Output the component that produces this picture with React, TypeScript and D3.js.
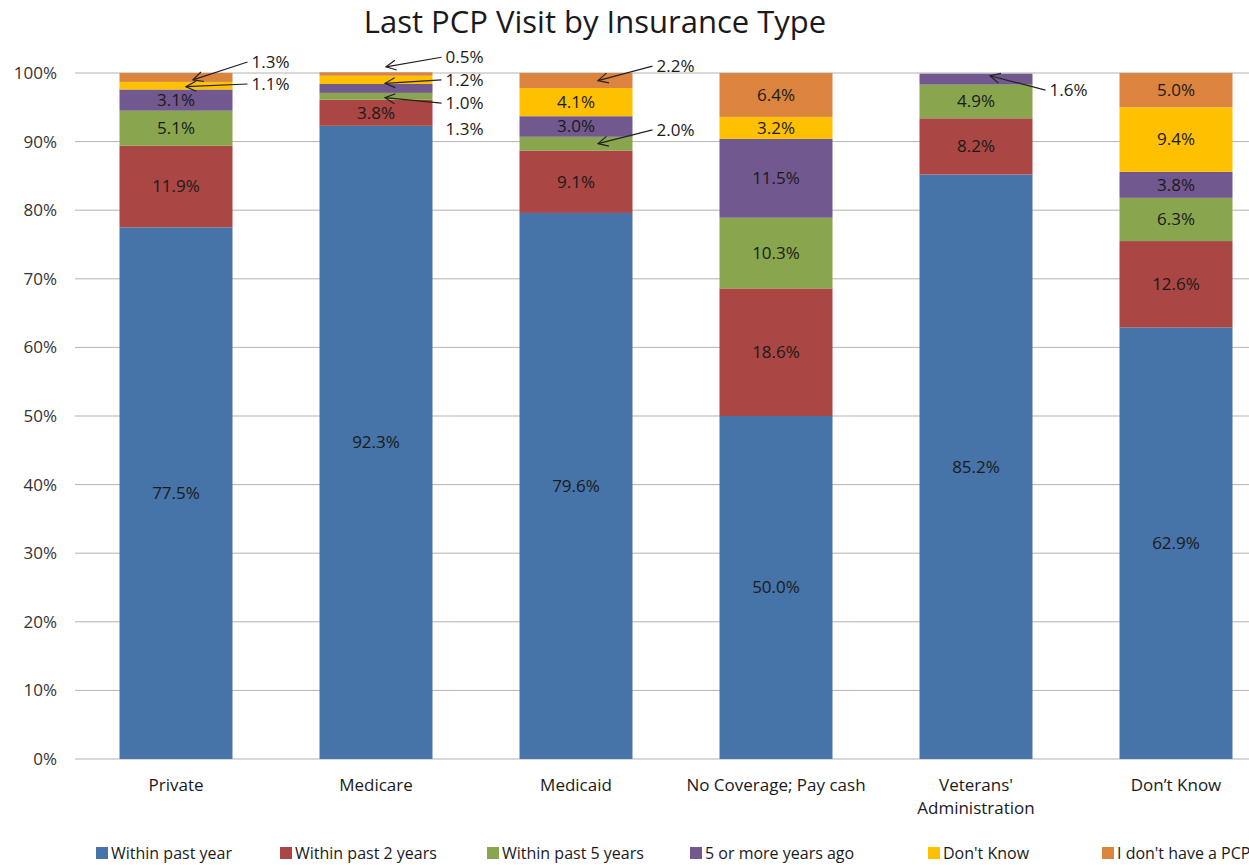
import React from "react";
import * as d3 from "d3";

const categories = ["Private", "Medicare", "Medicaid", "No Coverage; Pay cash", "Veterans' Administration", "Don\u2019t Know"];
const seriesNames = ["Within past year", "Within past 2 years", "Within past 5 years", "5 or more years ago", "Don't Know", "I don't have a PCP"];
const withinPastYear = [77.5, 92.3, 79.6, 50.0, 85.2, 62.9];
const withinPast2Years = [11.9, 3.8, 9.1, 18.6, 8.2, 12.6];
const withinPast5Years = [5.1, 1.0, 2.0, 10.3, 4.9, 6.3];
const fiveOrMore = [3.1, 1.3, 3.0, 11.5, 1.6, 3.8];
const dontKnow = [1.1, 1.2, 4.1, 3.2, 0, 9.4];
const noPCP = [1.3, 0.5, 2.2, 6.4, 0, 5.0];
const yTicks = [0, 10, 20, 30, 40, 50, 60, 70, 80, 90, 100];

const seriesValues = [withinPastYear, withinPast2Years, withinPast5Years, fiveOrMore, dontKnow, noPCP];
const colors = ["#4673A8", "#AA4643", "#89A54E", "#71588F", "#FFC000", "#DB843D"];

// external labels: category index, series index, label y (value units), label x offset from bar edge,
// arrow target x offset from bar center, target y (value units), arrow or not
const externals = [
  { c: 0, s: 5, ly: 101.6, lx: 19, tdx: 17, ty: 99.0, arrow: true },
  { c: 0, s: 4, ly: 98.4, lx: 19, tdx: 10, ty: 98.0, arrow: true },
  { c: 1, s: 5, ly: 102.3, lx: 13, tdx: 10, ty: 100.9, arrow: true },
  { c: 1, s: 4, ly: 99.0, lx: 13, tdx: 9, ty: 98.5, arrow: true },
  { c: 1, s: 2, ly: 95.6, lx: 13, tdx: 9, ty: 96.4, arrow: true },
  { c: 1, s: 3, ly: 91.8, lx: 13, tdx: 0, ty: 0, arrow: false },
  { c: 2, s: 5, ly: 101.0, lx: 24, tdx: 22, ty: 98.9, arrow: true },
  { c: 2, s: 2, ly: 91.7, lx: 24, tdx: 22, ty: 89.7, arrow: true },
  { c: 4, s: 3, ly: 97.5, lx: 17, tdx: 14, ty: 99.6, arrow: true },
];

const W = 1249;
const H = 865;
const FONT = "'Open Sans', Lato, sans-serif";

export default function App() {
  const x = d3.scaleBand<string>().domain(categories).range([76, 1276]).paddingInner(0.435).paddingOuter(0.2175);
  const y = d3.scaleLinear().domain([0, 100]).range([759, 73]);
  const stackData = categories.map((c, i) => {
    const o: any = { cat: c };
    seriesNames.forEach((s, j) => (o[s] = seriesValues[j][i]));
    return o;
  });
  const stacked = d3.stack<any>().keys(seriesNames)(stackData);
  const extSet = new Set(externals.map((e) => `${e.c}-${e.s}`));
  const bw = x.bandwidth();

  const legendX = [96, 280, 487, 690, 928, 1102];

  return (
    <svg width={W} height={H} style={{ display: "block", position: "absolute", left: 0, top: 0, background: "#fff" }} fontFamily={FONT}>
      <defs>
        <marker id="arr" viewBox="0 0 12 12" refX="11" refY="6" markerWidth="12" markerHeight="12" orient="auto" markerUnits="userSpaceOnUse">
          <path d="M1,1 L11,6 L1,11" fill="none" stroke="#222" strokeWidth={1.2} />
        </marker>
      </defs>
      <rect width={W} height={H} fill="#fff" />
      <text x={595} y={33} textAnchor="middle" fontSize={31} fill="#1a1a1a">Last PCP Visit by Insurance Type</text>
      {yTicks.map((t) => (
        <g key={t}>
          <line x1={75} x2={W} y1={y(t)} y2={y(t)} stroke="#b3b3b3" strokeWidth={1} />
          <text x={57} y={y(t)} dy="0.35em" textAnchor="end" fontSize={17} fill="#333">{t}%</text>
        </g>
      ))}
      {stacked.map((layer, j) => (
        <g key={j} fill={colors[j]}>
          {layer.map((d, i) =>
            d[1] - d[0] > 0 ? (
              <rect key={i} x={x(categories[i])!} width={bw} y={y(d[1])} height={y(d[0]) - y(d[1])} />
            ) : null
          )}
        </g>
      ))}
      {stacked.map((layer, j) =>
        layer.map((d, i) => {
          const v = d[1] - d[0];
          if (v <= 0 || extSet.has(`${i}-${j}`)) return null;
          return (
            <text key={`${j}-${i}`} x={x(categories[i])! + bw / 2} y={y((d[0] + d[1]) / 2)} dy="0.35em" textAnchor="middle" fontSize={17} fill="#1a1a1a">
              {seriesValues[j][i].toFixed(1)}%
            </text>
          );
        })
      )}
      {externals.map((e, k) => {
        const lx = x(categories[e.c])! + bw + e.lx;
        const ly = y(e.ly);
        const tx = x(categories[e.c])! + bw / 2 + e.tdx;
        return (
          <g key={k}>
            {e.arrow && <line x1={lx - 4} y1={ly} x2={tx} y2={y(e.ty)} stroke="#222" strokeWidth={1.2} markerEnd="url(#arr)" />}
            <text x={lx} y={ly} dy="0.35em" fontSize={17} fill="#1a1a1a">{seriesValues[e.s][e.c].toFixed(1)}%</text>
          </g>
        );
      })}
      {categories.map((c) => {
        const cx = x(c)! + bw / 2;
        const lines = c === "Veterans' Administration" ? ["Veterans'", "Administration"] : [c];
        return (
          <text key={c} x={cx} y={791} textAnchor="middle" fontSize={17} fill="#1a1a1a">
            {lines.map((l, i) => (
              <tspan key={i} x={cx} dy={i === 0 ? 0 : 23}>{l}</tspan>
            ))}
          </text>
        );
      })}
      {seriesNames.map((s, j) => (
        <g key={s}>
          <rect x={legendX[j]} y={847} width={12} height={12} fill={colors[j]} />
          <text x={legendX[j] + 15} y={853} dy="0.35em" fontSize={16} fill="#1a1a1a">{s}</text>
        </g>
      ))}
    </svg>
  );
}
